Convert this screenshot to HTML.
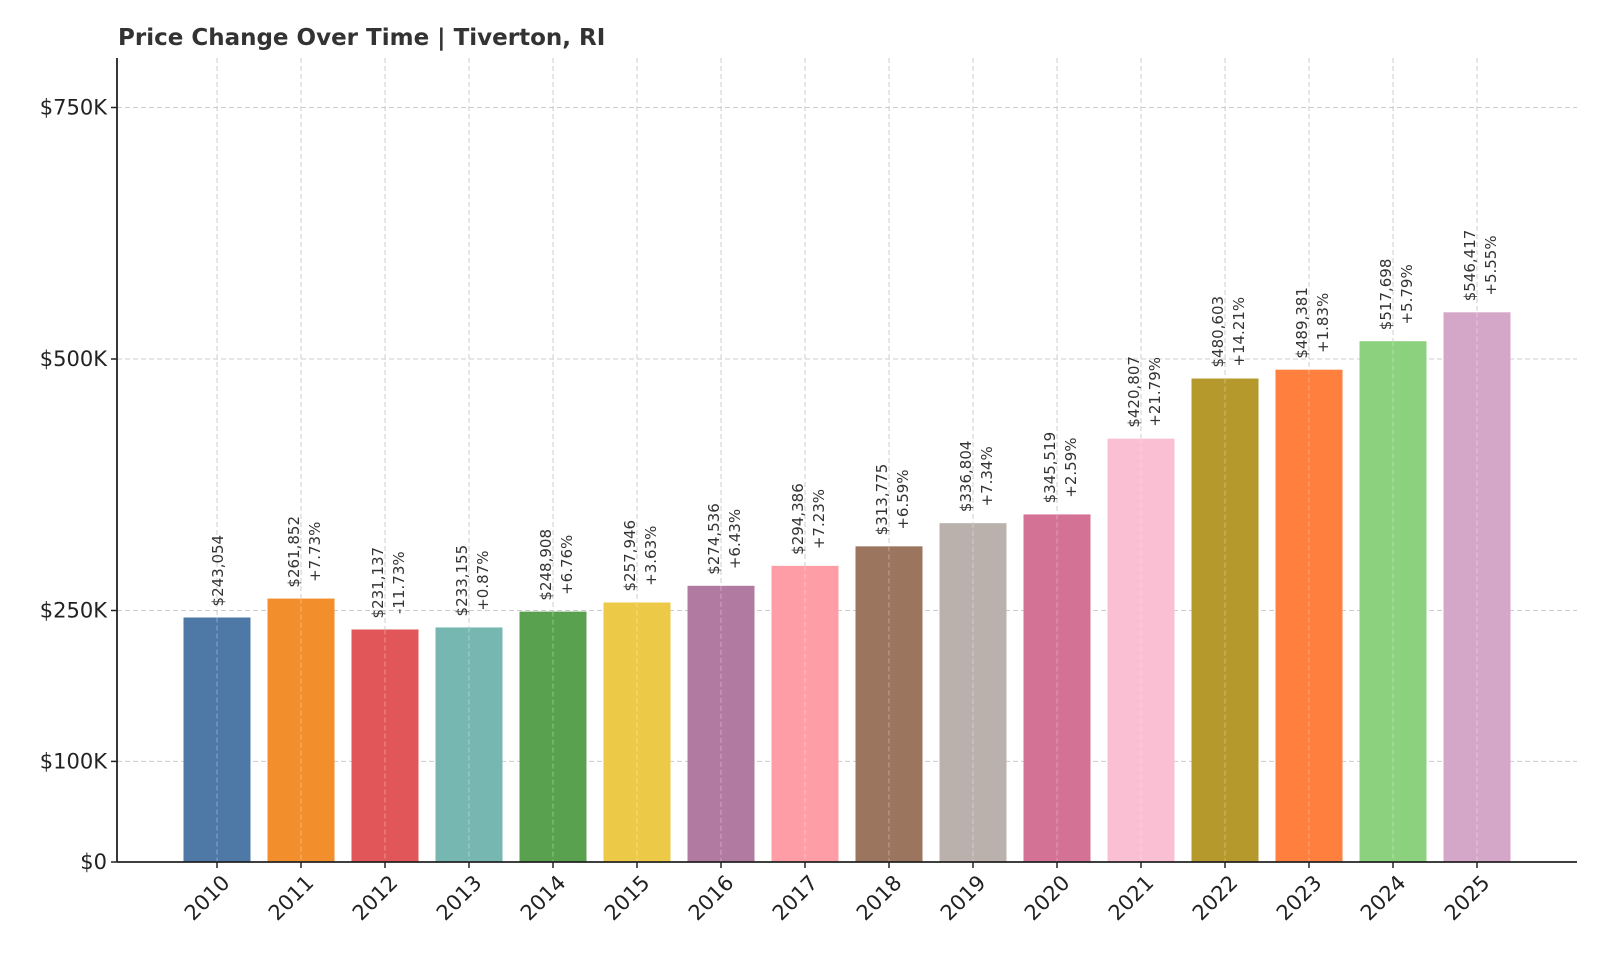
<!DOCTYPE html>
<html><head><meta charset="utf-8"><style>
body{margin:0;background:#fff;}
svg text{font-family:"DejaVu Sans","Liberation Sans",sans-serif;}
</style></head><body>
<svg id="chart" width="1600" height="960" viewBox="0 0 1600 960" xmlns="http://www.w3.org/2000/svg">
<text x="118" y="45" font-size="23" font-weight="bold" fill="#333">Price Change Over Time | Tiverton, RI</text>
<g id="grid"></g><g id="bars"></g><g id="labels"></g><g id="axes"></g>
</svg>
<script>
const years=["2010","2011","2012","2013","2014","2015","2016","2017","2018","2019","2020","2021","2022","2023","2024","2025"];
const values=[243054,261852,231137,233155,248908,257946,274536,294386,313775,336804,345519,420807,480603,489381,517698,546417];
const changes=["","+7.73%","-11.73%","+0.87%","+6.76%","+3.63%","+6.43%","+7.23%","+6.59%","+7.34%","+2.59%","+21.79%","+14.21%","+1.83%","+5.79%","+5.55%"];
const yTicks=[0,100000,250000,500000,750000];
const yTickLabels=["$0","$100K","$250K","$500K","$750K"];
const colors=["#4e79a7","#f28e2b","#e15759","#76b7b2","#59a14f","#edc948","#b07aa1","#ff9da7","#9c755f","#bab0ac","#d37295","#fabfd2","#b6992d","#ff7f3f","#8cd17d","#d4a6c8"];
const NS="http://www.w3.org/2000/svg";
const X0=117,X1=1577,Y0=862,YT=58;
const step=84;
function xs(i){return 217+i*step;}
function ys(v){return Y0-v*(Y0-359)/500000;}
function mk(tag,attrs,parent){const e=document.createElementNS(NS,tag);for(const k in attrs)e.setAttribute(k,attrs[k]);parent.appendChild(e);return e;}
const grid=document.getElementById('grid'),bars=document.getElementById('bars'),labels=document.getElementById('labels'),axes=document.getElementById('axes');
yTicks.forEach((t,i)=>{
  if(t>0){const g=mk('line',{x1:X0,x2:X1,y1:ys(t),y2:ys(t),stroke:'#ccc','stroke-dasharray':'5,3','stroke-width':1},grid);
  
  }
  const tk=mk('line',{x1:X0-6,x2:X0,y1:ys(t),y2:ys(t),stroke:'#222','stroke-width':1.5},axes);
  
  
  const tx=mk('text',{x:X0-10,y:ys(t)+7,'text-anchor':'end','font-size':21,fill:'#222'},axes);
  
  
  tx.textContent=yTickLabels[i];
});
years.forEach((y,i)=>{
  const cx=xs(i);
  const g=mk('line',{x1:cx,x2:cx,y1:YT,y2:Y0,stroke:'#ccc','stroke-dasharray':'5,3','stroke-width':1},grid);
  
  
  const top=ys(values[i]);
  const r=mk('rect',{x:cx-33.5,y:top,width:67,height:Y0-top,fill:colors[i]},bars);
  
  
  const gl=mk('line',{x1:cx,x2:cx,y1:top,y2:Y0,stroke:'rgba(255,255,255,0.35)','stroke-dasharray':'5,3','stroke-width':1},bars);
  
  
  const l1="$"+values[i].toLocaleString('en-US');
  const two=changes[i]!=="";
  const t1=mk('text',{'font-size':15,fill:'#333','text-anchor':'middle'},labels);
  
  
  t1.textContent=l1;
  let L=t1.getComputedTextLength();
  let t2=null;
  if(two){t2=mk('text',{'font-size':15,fill:'#333','text-anchor':'middle'},labels);
    
    
    t2.textContent=changes[i];L=Math.max(L,t2.getComputedTextLength());}
  const cy=top-11-L/2;
  const b1=two?cx-2:cx+6;
  t1.setAttribute('transform',`translate(${b1},${cy}) rotate(-90)`);
  if(t2)t2.setAttribute('transform',`translate(${cx+19},${cy}) rotate(-90)`);
  const tk=mk('line',{x1:cx,x2:cx,y1:Y0,y2:Y0+6,stroke:'#222','stroke-width':1.5},axes);
  
  
  const xl=mk('text',{'font-size':21,fill:'#222','text-anchor':'end',transform:`translate(${cx+14},${Y0+22}) rotate(-45)`},axes);
  
  
  xl.textContent=y;
});
const ya=mk('line',{x1:X0,x2:X0,y1:YT,y2:Y0,stroke:'#222','stroke-width':1.8},axes);


const xa=mk('line',{x1:X0,x2:X1,y1:Y0,y2:Y0,stroke:'#222','stroke-width':1.8},axes);


</script>
</body></html>
